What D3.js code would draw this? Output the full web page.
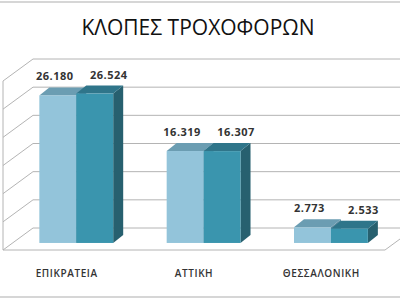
<!DOCTYPE html>
<html>
<head>
<meta charset="utf-8">
<script src="https://cdn.jsdelivr.net/npm/d3@7"></script>
<style>
  body { margin: 0; background: #fff; }
  text { font-family: "Open Sans", "Noto Sans", sans-serif; }
</style>
</head>
<body>
<script>
var w = 400;
var h = 300;

// data
var categories = ["ΕΠΙΚΡΑΤΕΙΑ", "ΑΤΤΙΚΗ", "ΘΕΣΣΑΛΟΝΙΚΗ"];
var series1 = [26180, 16319, 2773];
var series2 = [26524, 16307, 2533];
var yTicks = [0, 5000, 10000, 15000, 20000, 25000, 30000];

var series = [series1, series2];
var faceColors = [
  { front: "#93c4da", top: "#6b9db2", side: "#5b8a9e" },
  { front: "#3a95ae", top: "#2f758a", side: "#27606f" }
];

// depth of the wall (back -> front) and of the bars
var wallDx = -30, wallDy = 22;
var barT = 0.68;               // bar front face, fraction of depth from back
var barDx = 10, barDy = -8;    // bar depth

var svg = d3.select("body").append("svg")
    .attr("width", w)
    .attr("height", h);

// picture frame lines
svg.append("line").attr("x1", 0).attr("x2", w).attr("y1", 2).attr("y2", 2)
    .attr("stroke", "#c8c8c8").attr("stroke-width", 1.5);
svg.append("line").attr("x1", 0).attr("x2", w).attr("y1", 297).attr("y2", 297)
    .attr("stroke", "#c8c8c8").attr("stroke-width", 1.5);

// title
svg.append("text")
    .attr("x", 198)
    .attr("y", 35)
    .attr("text-anchor", "middle")
    .attr("font-size", 21)
    .attr("fill", "#111")
    .text("ΚΛΟΠΕΣ ΤΡΟΧΟΦΟΡΩΝ");

// value scale on the back wall
var yBack = d3.scaleLinear().domain([0, 30000]).range([228, 59]);
var backLeft = 33, backRight = 430;

// gridlines: back wall + left wall diagonal
var grid = svg.append("g").attr("fill", "none").attr("stroke", "#b4b4b4").attr("stroke-width", 1);
grid.selectAll("path.grid")
  .data(yTicks)
  .enter().append("path")
    .attr("class", "grid")
    .attr("d", function(d) {
      var y = yBack(d);
      return "M" + backRight + "," + y + "L" + backLeft + "," + y +
             "L" + (backLeft + wallDx) + "," + (y + wallDy);
    });

// left wall front edge
grid.append("line")
    .attr("x1", backLeft + wallDx).attr("x2", backLeft + wallDx)
    .attr("y1", yBack(30000) + wallDy).attr("y2", yBack(0) + wallDy);

// floor front edge
grid.append("path")
    .attr("d", "M" + (backLeft + wallDx) + "," + (yBack(0) + wallDy) +
               "L" + (backRight - 45) + "," + (yBack(0) + wallDy) +
               "L" + (backRight - 45 - wallDx) + "," + yBack(0));

// category scale at the plane of the bar fronts
var frontShiftX = wallDx * barT, frontShiftY = wallDy * barT;
var x0 = d3.scaleBand()
    .domain(categories)
    .range([backLeft + frontShiftX, backLeft + frontShiftX + 382])
    .paddingInner(0.42)
    .paddingOuter(0.21);
var x1 = d3.scaleBand().domain([0, 1]).range([0, x0.bandwidth()]);

function yFront(v) { return yBack(v) + frontShiftY; }

var fmt = d3.formatLocale({ decimal: ",", thousands: ".", grouping: [3], currency: ["", ""] }).format(",");

var bars = [];
categories.forEach(function(c, i) {
  series.forEach(function(s, k) {
    bars.push({ cat: c, k: k, v: s[i] });
  });
});

var barG = svg.append("g");
var bw = x1.bandwidth();

bars.forEach(function(b) {
  var xl = x0(b.cat) + x1(b.k);
  var xr = xl + bw;
  var yt = yFront(b.v);
  var yb = yFront(0);
  var col = faceColors[b.k];
  var g = barG.append("g");
  // side face
  g.append("path")
    .attr("d", "M" + xr + "," + yt + "L" + (xr + barDx) + "," + (yt + barDy) +
               "L" + (xr + barDx) + "," + (yb + barDy) + "L" + xr + "," + yb + "Z")
    .attr("fill", col.side);
  // top face
  g.append("path")
    .attr("d", "M" + xl + "," + yt + "L" + (xl + barDx) + "," + (yt + barDy) +
               "L" + (xr + barDx) + "," + (yt + barDy) + "L" + xr + "," + yt + "Z")
    .attr("fill", col.top);
  // front face
  g.append("rect")
    .attr("x", xl)
    .attr("y", yt)
    .attr("width", bw)
    .attr("height", yb - yt)
    .attr("fill", col.front);
});

// value labels
svg.append("g").selectAll("text")
  .data(bars)
  .enter().append("text")
    .attr("x", function(d) { return x0(d.cat) + x1(d.k) + bw / 2 + (d.k === 0 ? -3 : 14); })
    .attr("y", function(d) { return yFront(d.v) + barDy - 7; })
    .attr("text-anchor", "middle")
    .attr("font-size", 11)
    .attr("font-weight", "bold")
    .attr("fill", "#333")
    .attr("letter-spacing", 0.5)
    .text(function(d) { return fmt(d.v); });

// category labels at the front edge of the floor
var xLabel = d3.scaleBand().domain(categories).range([backLeft + wallDx, backLeft + wallDx + 382]);
svg.append("g").selectAll("text")
  .data(categories)
  .enter().append("text")
    .attr("x", function(d) { return xLabel(d) + xLabel.bandwidth() / 2; })
    .attr("y", 277)
    .attr("text-anchor", "middle")
    .attr("font-size", 10)
    .attr("font-weight", 600)
    .attr("fill", "#333")
    .attr("letter-spacing", 0.6)
    .text(function(d) { return d; });
</script>
</body>
</html>
